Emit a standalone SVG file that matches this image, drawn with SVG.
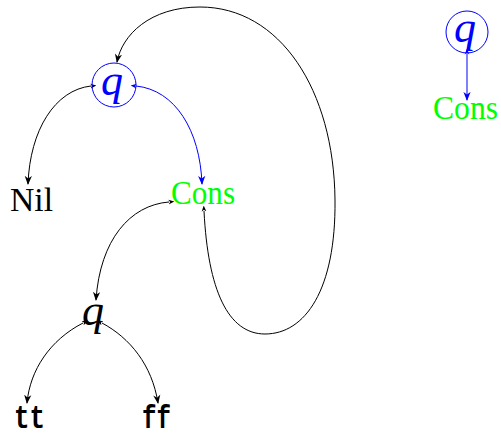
<svg xmlns="http://www.w3.org/2000/svg" width="501" height="439" viewBox="0 0 501 439">
<style>
.e{fill:none;stroke:#000;stroke-width:1}
.b{stroke:#0000ff}
.lbl{font-family:"Liberation Serif","DejaVu Serif",serif;font-size:33px}
.q{font-family:"Liberation Serif","DejaVu Serif",serif;font-style:italic;font-size:44px}
.tt{font-family:"Liberation Mono","DejaVu Sans Mono",monospace;font-weight:bold;font-size:34px}
.green{fill:#00ff00}
.blue{fill:#0000ff}
</style>
<defs>
<marker id="ah" viewBox="0 0 10 10" refX="9" refY="5" markerWidth="9" markerHeight="9" markerUnits="userSpaceOnUse" orient="auto">
<path d="M0,1 L10,5 L0,9 L3,5 Z" fill="#000"/>
</marker>
<marker id="ahb" viewBox="0 0 10 10" refX="9" refY="5" markerWidth="9" markerHeight="9" markerUnits="userSpaceOnUse" orient="auto">
<path d="M0,1 L10,5 L0,9 L3,5 Z" fill="#0000ff"/>
</marker>
<marker id="tl" viewBox="0 0 10 10" refX="1" refY="5" markerWidth="6" markerHeight="6" markerUnits="userSpaceOnUse" orient="auto-start-reverse">
<path d="M0,1 L10,5 L0,9 L3,5 Z" fill="#000"/>
</marker>
<marker id="tlb" viewBox="0 0 10 10" refX="1" refY="5" markerWidth="6" markerHeight="6" markerUnits="userSpaceOnUse" orient="auto-start-reverse">
<path d="M0,1 L10,5 L0,9 L3,5 Z" fill="#0000ff"/>
</marker>
</defs>
<g id="connectors">
<path class="e" marker-start="url(#tl)" marker-end="url(#ah)" d="M91,86 C55,90 30,130 28,184"/>
<path class="e b" marker-start="url(#tlb)" marker-end="url(#ahb)" d="M136,86 C175,90 200,130 202,184"/>
<path class="e" marker-start="url(#tl)" marker-end="url(#ah)" d="M204,211 C208,290 228,334 265,334 C305,334 336,290 335,200 C334,90 280,7 200,7 C150,7 122,35 117,62"/>
<path class="e" marker-start="url(#tl)" marker-end="url(#ah)" d="M169,202 C130,205 100,240 96,300"/>
<path class="e" marker-start="url(#tl)" marker-end="url(#ah)" d="M83,323 C50,340 30,370 27,403"/>
<path class="e" marker-start="url(#tl)" marker-end="url(#ah)" d="M102,323 C130,338 152,365 158,403"/>
<path class="e b" marker-start="url(#tlb)" marker-end="url(#ahb)" d="M467,54 L467,100"/>
</g>
<g id="q1">
<circle cx="114" cy="85" r="22" fill="none" stroke="#0000ff" stroke-width="1"/>
<text class="q blue" x="112" y="95" text-anchor="middle">q</text>
</g>
<g id="nil">
<text class="lbl" x="10" y="211" textLength="43" lengthAdjust="spacingAndGlyphs">Nil</text>
</g>
<g id="cons1">
<text class="lbl green" x="171" y="204" textLength="64" lengthAdjust="spacingAndGlyphs">Cons</text>
</g>
<g id="q2">
<text class="q" x="93" y="325" text-anchor="middle">q</text>
</g>
<g id="tt">
<text class="tt" x="14" y="428" textLength="31" lengthAdjust="spacingAndGlyphs">tt</text>
</g>
<g id="ff">
<text class="tt" x="142" y="428" textLength="29" lengthAdjust="spacingAndGlyphs">ff</text>
</g>
<g id="q3">
<circle cx="467" cy="32" r="21" fill="none" stroke="#0000ff" stroke-width="1"/>
<text class="q blue" x="465" y="42" text-anchor="middle">q</text>
</g>
<g id="cons3">
<text class="lbl green" x="433" y="119" textLength="65" lengthAdjust="spacingAndGlyphs">Cons</text>
</g>
</svg>
